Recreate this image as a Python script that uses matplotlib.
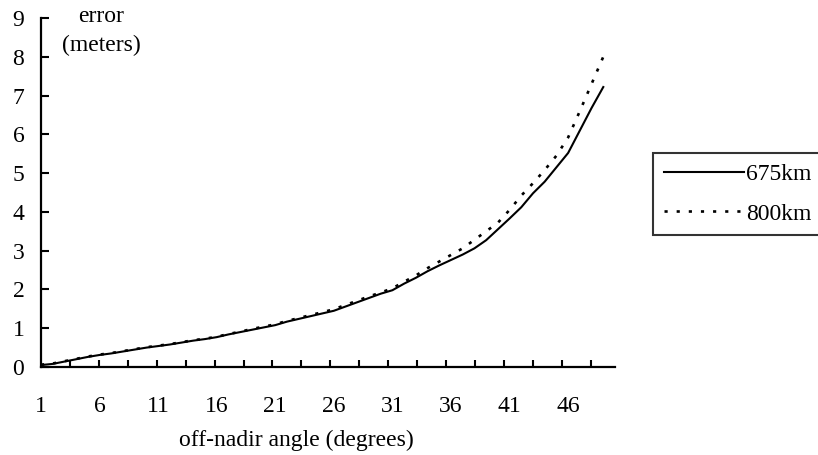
import numpy as np
import matplotlib
matplotlib.use("Agg")
import matplotlib.pyplot as plt

plt.rcParams['font.family'] = ['Liberation Serif', 'DejaVu Serif']

# off-nadir angle categories 1..49
angle = np.arange(1, 50)
err_675 = [0.05, 0.08, 0.14, 0.20, 0.26, 0.31, 0.35, 0.40, 0.45, 0.50,
           0.54, 0.58, 0.63, 0.68, 0.72, 0.77, 0.84, 0.90, 0.96, 1.02,
           1.08, 1.17, 1.24, 1.31, 1.38, 1.45, 1.56, 1.67, 1.78, 1.89,
           1.98, 2.15, 2.30, 2.47, 2.62, 2.76, 2.90, 3.06, 3.27, 3.55,
           3.83, 4.12, 4.48, 4.78, 5.15, 5.52, 6.10, 6.68, 7.22]
err_800 = [0.06, 0.09, 0.15, 0.21, 0.27, 0.32, 0.36, 0.41, 0.46, 0.51,
           0.55, 0.59, 0.64, 0.69, 0.73, 0.78, 0.85, 0.91, 0.98, 1.04,
           1.10, 1.19, 1.26, 1.34, 1.41, 1.49, 1.60, 1.71, 1.82, 1.92,
           2.03, 2.20, 2.36, 2.55, 2.72, 2.89, 3.06, 3.28, 3.50, 3.72,
           4.05, 4.42, 4.74, 5.08, 5.45, 5.92, 6.60, 7.30, 8.00]
xticks = [1, 6, 11, 16, 21, 26, 31, 36, 41, 46]

fs = 17

fig = plt.figure(figsize=(8.18, 4.55), dpi=100)
ax = fig.add_axes([41/818, 1-367/455, (615-41)/818, (367-18)/455])

ax.plot(angle, err_675, color='black', lw=1.5, label='675km')
ax.plot(angle, err_800, color='black', lw=1.9, linestyle=(0, (1.2, 3.4)),
        label='800km')

ax.set_xlim(1, 50)
ax.set_ylim(0, 9)
ax.set_yticks(range(10))
ax.set_xticks(xticks)
ax.set_xticks(np.arange(1, 50, 2.47), minor=True)

for s in ['top', 'right']:
    ax.spines[s].set_visible(False)
for s in ['left', 'bottom']:
    ax.spines[s].set_linewidth(1.6)

ax.tick_params(axis='y', direction='in', length=6, width=1.5, pad=12,
               labelsize=fs)
ax.tick_params(axis='x', which='major', length=0, pad=21, labelsize=fs)
ax.tick_params(axis='x', which='minor', direction='in', length=5, width=1.5)

fig.text(101/818, 1-31/455, 'error\n(meters)', ha='center', va='center',
         fontsize=fs, linespacing=1.45)
fig.text(296/818, 1-440/455, 'off-nadir angle (degrees)', ha='center',
         va='center', fontsize=fs)

leg = ax.legend(loc='upper left', bbox_to_anchor=(653/818, 1-153/455),
                bbox_transform=fig.transFigure, borderaxespad=0,
                fontsize=fs, frameon=True, fancybox=False, handlelength=3.4,
                handletextpad=0.1, labelspacing=0.76, borderpad=0.45)
leg.get_frame().set_edgecolor('black')
leg.get_frame().set_linewidth(1.5)

fig.savefig('out.png', dpi=100)
